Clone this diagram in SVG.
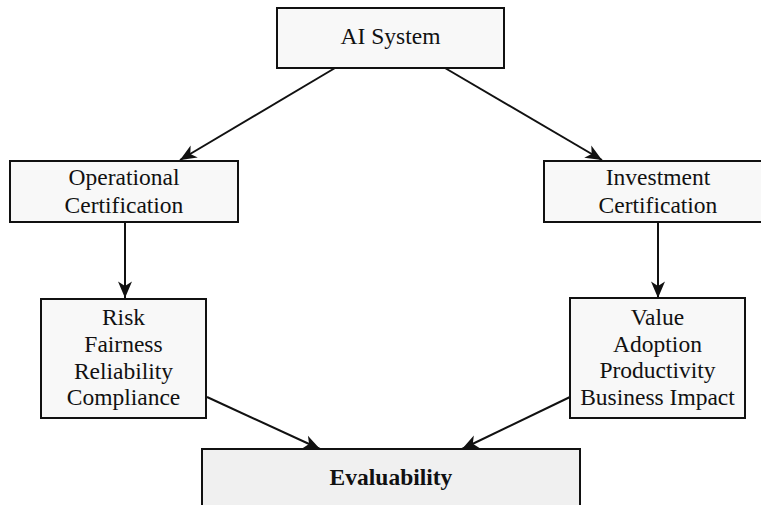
<svg xmlns="http://www.w3.org/2000/svg" width="761" height="505" viewBox="0 0 761 505">
<style>
.box{fill:#f8f8f8;stroke:#111;stroke-width:2}
.box2{fill:#f0f0f0;stroke:#111;stroke-width:2}
text{font-family:"Liberation Serif","Times New Roman",serif;font-size:23.5px;fill:#111;text-anchor:middle}
.b{font-weight:bold}
.edge{fill:none;stroke:#111;stroke-width:2;marker-end:url(#ah)}
</style>
<defs>
<marker id="ah" markerUnits="userSpaceOnUse" markerWidth="20" markerHeight="18" viewBox="-18 -9 20 18" refX="0" refY="0" orient="auto">
<path d="M0,0 L-16.5,-7 L-12,0 L-16.5,7 Z" fill="#111"/>
</marker>
</defs>
<rect width="761" height="505" fill="#fff"/>
<g id="connectors">
<line class="edge" x1="335" y1="68" x2="180" y2="160"/>
<line class="edge" x1="445" y1="68" x2="602" y2="160"/>
<line class="edge" x1="125" y1="222" x2="125" y2="298"/>
<line class="edge" x1="658" y1="222" x2="658" y2="298"/>
<line class="edge" x1="207" y1="397" x2="320" y2="449"/>
<line class="edge" x1="570" y1="397" x2="462" y2="449"/>
</g>
<g id="ai-system">
<rect class="box" x="277" y="8" width="227" height="60"/>
<text x="390.5" y="44">AI System</text>
</g>
<g id="operational">
<rect class="box" x="10" y="161" width="228" height="61"/>
<text x="124" y="185">Operational</text>
<text x="124" y="212.5">Certification</text>
</g>
<g id="investment">
<rect class="box" x="544" y="161" width="228" height="61"/>
<text x="658" y="185">Investment</text>
<text x="658" y="212.5">Certification</text>
</g>
<g id="risk">
<rect class="box" x="41" y="299" width="165" height="119"/>
<text x="123.5" y="325">Risk</text>
<text x="123.5" y="352">Fairness</text>
<text x="123.5" y="378.5">Reliability</text>
<text x="123.5" y="405">Compliance</text>
</g>
<g id="value">
<rect class="box" x="570" y="298" width="175" height="120"/>
<text x="657.5" y="324.5">Value</text>
<text x="657.5" y="351.5">Adoption</text>
<text x="657.5" y="378">Productivity</text>
<text x="657.5" y="405">Business Impact</text>
</g>
<g id="evaluability">
<rect class="box2" x="202" y="449" width="378" height="80"/>
<text class="b" x="391" y="485">Evaluability</text>
</g>
</svg>
